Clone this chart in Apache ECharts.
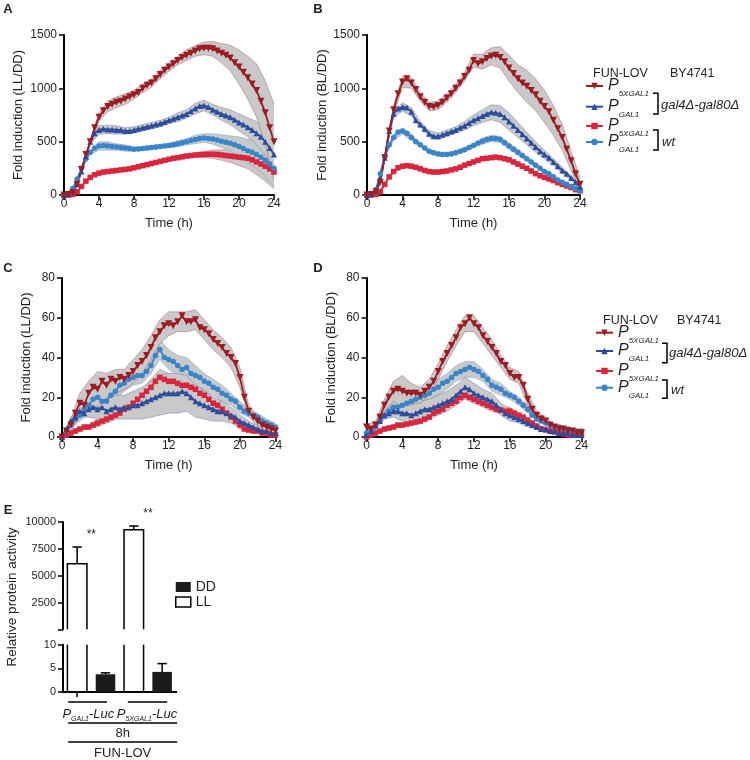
<!DOCTYPE html>
<html><head><meta charset="utf-8">
<script src="https://cdn.jsdelivr.net/npm/echarts@6/dist/echarts.min.js"></script>
<style>html,body{margin:0;padding:0;background:#fff}#c{width:750px;height:760px}</style>
</head><body><div id="c"></div>
<script>
// ---------- DATA ----------
const hours = [0,0.5,1,1.5,2,2.5,3,3.5,4,4.5,5,5.5,6,6.5,7,7.5,8,8.5,9,9.5,10,10.5,11,11.5,12,12.5,13,13.5,14,14.5,15,15.5,16,16.5,17,17.5,18,18.5,19,19.5,20,20.5,21,21.5,22,22.5,23,23.5,24];
const semHours = [0,1,2,3,4,5,6,7,8,9,10,11,12,13,14,15,16,17,18,19,20,21,22,23,24];

// Panel A (LL/DD)
const A_dred = [0,5,20,100,240,380,500,630,730,790,830,850,870,880,900,920,940,960,1000,1030,1050,1090,1130,1170,1200,1230,1260,1290,1310,1330,1350,1370,1375,1375,1370,1350,1330,1310,1285,1240,1200,1150,1100,1040,980,880,770,630,500];
const A_blue = [0,10,40,100,220,360,500,580,610,620,615,615,610,610,600,600,610,620,630,640,650,660,670,685,700,715,730,745,760,785,810,835,840,825,800,780,760,745,730,705,680,660,635,610,580,545,500,440,380];
const A_red = [0,0,5,30,80,130,165,190,205,215,220,225,230,235,240,245,255,265,275,285,295,305,315,325,335,345,350,358,365,370,375,378,380,382,382,380,375,370,365,360,355,350,345,330,310,290,270,245,215];
const A_lblue = [0,15,60,150,250,340,400,440,460,465,460,455,450,445,440,435,430,432,435,440,445,450,455,460,465,470,480,490,500,510,520,530,535,530,525,515,505,495,485,470,455,435,415,400,380,355,325,290,250];
const A_dred_sem = [0,5,10,20,40,50,50,50,40,40,40,40,40,40,50,50,60,70,90,120,160,200,250,300,350];
const A_blue_sem = [0,5,10,20,40,40,40,30,30,30,30,30,30,40,40,50,50,50,60,70,80,90,110,130,150];
const A_red_sem = [0,2,5,10,15,15,15,15,15,15,15,15,15,20,20,20,30,40,50,60,80,100,120,140,160];
const A_lblue_sem = [0,5,10,20,40,40,30,30,20,20,20,20,20,30,30,40,40,50,60,70,90,110,130,150,170];

// Panel B (BL/DD)
const B_dred = [0,5,30,120,350,600,800,950,1060,1090,1050,990,920,870,830,825,840,870,910,950,1000,1050,1110,1170,1260,1230,1250,1280,1300,1310,1290,1250,1190,1140,1090,1050,1020,980,940,880,830,780,700,620,540,430,320,200,100];
const B_blue = [0,10,40,150,350,600,760,810,825,820,780,700,660,620,575,550,550,565,580,595,610,630,650,675,700,720,740,760,775,770,760,730,690,650,610,570,530,490,450,410,380,350,310,270,230,200,160,120,80];
const B_red = [0,0,5,30,100,170,220,255,270,275,270,260,245,230,220,215,215,220,225,235,245,260,280,295,310,325,340,345,350,355,350,340,330,310,290,270,250,225,200,180,165,150,135,115,100,85,70,50,40];
const B_lblue = [0,10,50,200,360,470,540,590,600,580,540,500,470,440,410,395,385,380,380,385,395,410,425,445,465,485,505,520,530,530,520,490,460,430,400,370,340,310,280,250,220,200,170,140,120,100,80,60,40];
const B_dred_sem = [0,5,15,40,50,50,40,40,40,40,40,40,60,70,80,100,120,130,150,150,150,140,120,90,60];
const B_blue_sem = [0,5,10,30,40,40,30,30,30,30,30,40,50,60,70,80,80,70,60,50,40,30,30,20,20];
const B_red_sem = [0,2,5,10,15,15,10,10,10,10,10,10,15,15,15,20,20,20,15,15,10,10,10,10,10];
const B_lblue_sem = [0,5,10,30,30,30,20,20,20,20,20,20,20,30,30,30,30,30,20,20,20,20,15,10,10];

// Panel C (LL/DD)
const C_dred = [0,3,6,12,17,16,22,25,24,28,26,29,28,30,29,31,33,36,38,41,45,50,53,56,57,56,58,61,58,58,59,55,54,52,49,47,45,42,40,37,30,20,13,10,8,6,5,4,3];
const C_blue = [0,4,8,10,13,12,14,15,14,15,13,14,15,14,15,15,16,16,17,18,19,20,21,22,22,22,22,23,22,20,18,17,16,15,14,13,13,12,11,10,8,7,6,5,4,3,3,2,2];
const C_red = [0,1,2,3,4,5,5,6,7,8,9,10,11,12,14,15,17,19,21,23,25,28,30,29,28,28,27,26,26,25,24,22,21,19,17,16,14,12,10,8,6,4,3.5,3,3,2,2,1,1];
const C_lblue = [0,3,6,9,11,14,16,19,20,18,18,21,23,26,27,29,30,31,31,33,36,41,44,40,39,38,36,34,35,32,31,30,28,27,25,24,22,21,19,18,15,13,12,11,10,8,7,6,5];
const C_dred_sem = [0,3,5,6,9,6,6,5,6,6,6,6,6,5,5,5,5,5,5,5,5,3,2,2,2];
const C_blue_sem = [0,2,3,4,5,6,6,6,7,8,9,10,10,10,9,8,7,6,5,4,3,2,2,1,1];
const C_red_sem = [0,1,1,1,2,2,2,2,3,3,4,4,4,4,4,3,3,3,3,2,2,1,1,1,1];
const C_lblue_sem = [0,2,3,4,4,4,4,4,4,4,4,5,5,5,5,5,4,4,4,3,3,2,2,2,2];

// Panel D (BL/DD)
const D_dred = [5,4,6,10,16,20,23,24,23,22,22,22,21,23,25,28,33,38,42,46,50,55,57,60,57,55,51,48,45,42,38,36,32,30,30,26,19,14,11,9,8,6,5,4,4,3,3,2,2];
const D_blue = [1,3,6,8,11,12,13,13,12,12,11,12,13,14,14,15,16,17,18,19,21,23,25,24,22,21,20,19,18,16,14,12,11,10,9,8,7,6,5,4,4,3,3,2,2,2,1,1,1];
const D_red = [0,1,2,3,4,4.5,5,6,6,6.5,7,7.5,8,9,10,12,13,14,16,17,18,20,21,20,19,18,17,16,15,14,13.5,13,13,12,11,10,8.5,7,5.5,4,3.5,3,2.5,2,1.5,1,1,1,1];
const D_lblue = [2,3,5,8,11,13,15,15,16,17,18,19,20,21,22,24,25,27,28,30,32,33,34,35,34,33,31,29,26,25,24,22,21,20,18,16,14,11,9,8,7,6,5,5,4,4,3,3,3];
const D_dred_sem = [1,2,3,5,8,5,4,4,4,4,4,4,4,4,4,3,3,3,3,2,2,1,1,1,1];
const D_blue_sem = [1,1,2,3,4,5,5,5,5,5,5,5,5,4,4,3,3,2,2,1,1,1,1,1,1];
const D_red_sem = [0,1,1,1,1,1,1,1,1,1,2,2,2,2,2,2,2,1,1,1,1,1,1,0,0];
const D_lblue_sem = [1,1,2,3,4,4,4,4,4,4,4,4,4,3,3,3,2,2,2,1,1,1,1,1,1];

// Panel E
const E_cats = ['GAL1 LL','GAL1 DD','5XGAL1 LL','5XGAL1 DD'];
const E_LL = [6100, 9280];
const E_LL_err = [1570, 350];
const E_DD = [3.75, 4.25];
const E_DD_err = [0.3, 1.75];

// tick values
const foldTicksAB = [0, 500, 1000, 1500];
const foldTicksCD = [0, 20, 40, 60, 80];
const timeTicks = [0, 4, 8, 12, 16, 20, 24];

// ---------- STYLE ----------
const FONT = '"Liberation Sans", Arial, Helvetica, sans-serif';
const TXT = '#231f20';
const COL = {dred:'#9b1c24', blue:'#2c4c9c', red:'#d8263f', lblue:'#3a84c8'};
const NAME = {dred:'P5XGAL1 mut', blue:'PGAL1 mut', red:'P5XGAL1 wt', lblue:'PGAL1 wt'};
const SYM = {dred:{s:'triangle', r:180, z:7}, blue:{s:'triangle', r:0, z:6}, red:{s:'rect', r:0, z:5.5}, lblue:{s:'circle', r:0, z:5.5}};
const LEG = {'P5XGAL1 mut':'{p|P}{s|5XGAL1}', 'PGAL1 mut':'{p|P}{s|GAL1}', 'P5XGAL1 wt':'{p|P}{s|5XGAL1}', 'PGAL1 wt':'{p|P}{s|GAL1}'};

const panels = [
  {mean:{dred:A_dred, blue:A_blue, red:A_red, lblue:A_lblue}, sem:{dred:A_dred_sem, blue:A_blue_sem, red:A_red_sem, lblue:A_lblue_sem}, ticks:foldTicksAB},
  {mean:{dred:B_dred, blue:B_blue, red:B_red, lblue:B_lblue}, sem:{dred:B_dred_sem, blue:B_blue_sem, red:B_red_sem, lblue:B_lblue_sem}, ticks:foldTicksAB},
  {mean:{dred:C_dred, blue:C_blue, red:C_red, lblue:C_lblue}, sem:{dred:C_dred_sem, blue:C_blue_sem, red:C_red_sem, lblue:C_lblue_sem}, ticks:foldTicksCD},
  {mean:{dred:D_dred, blue:D_blue, red:D_red, lblue:D_lblue}, sem:{dred:D_dred_sem, blue:D_blue_sem, red:D_red_sem, lblue:D_lblue_sem}, ticks:foldTicksCD}
];
const gridDefs = [
  {left:64, top:35, width:210, height:160},
  {left:367, top:35, width:213, height:160},
  {left:62, top:278, width:213.5, height:159},
  {left:366.5, top:278, width:215, height:159},
  {left:63, top:522, width:113.3, height:107.3},
  {left:63, top:644.7, width:113.3, height:47.3}
];
const yNames = ['Fold induction (LL/DD)','Fold induction (BL/DD)','Fold induction (LL/DD)','Fold induction (BL/DD)'];
const yNameGaps = [39, 38, 29, 29];

const axisLineStyle = {color:'#000', width:2};
const lbl = (fs) => ({color:TXT, fontFamily:FONT, fontSize:fs});
const plain = v => String(v);

const grid = gridDefs.map(g => Object.assign({containLabel:false, outerBoundsMode:'none'}, g));
const xAxis = [], yAxis = [], series = [];

for (let i = 0; i < 4; i++) {
  const tk = panels[i].ticks;
  xAxis.push({type:'value', gridIndex:i, min:timeTicks[0], max:timeTicks[timeTicks.length-1], interval:timeTicks[1]-timeTicks[0],
    axisLine:{show:true, onZero:false, lineStyle:axisLineStyle},
    axisTick:{show:true, length:5, lineStyle:{color:'#000', width:1.5}},
    splitLine:{show:false},
    axisLabel:Object.assign({margin:3, formatter:plain}, lbl(12)),
    name:'Time (h)', nameLocation:'middle', nameGap:22, nameMoveOverlap:false,
    nameTextStyle:lbl(13)});
  yAxis.push({type:'value', gridIndex:i, min:tk[0], max:tk[tk.length-1], interval:tk[1]-tk[0],
    axisLine:{show:true, onZero:false, lineStyle:axisLineStyle},
    axisTick:{show:true, length:5, lineStyle:{color:'#000', width:1.5}},
    splitLine:{show:false},
    axisLabel:Object.assign({margin:7, formatter:plain}, lbl(12)),
    name:yNames[i], nameLocation:'middle', nameGap:yNameGaps[i], nameMoveOverlap:false,
    nameTextStyle:lbl(13)});
}
// Panel E axes
xAxis.push({type:'category', gridIndex:4, data:E_cats, show:false});
xAxis.push({type:'category', gridIndex:5, data:E_cats,
  axisLine:{show:true, onZero:false, lineStyle:axisLineStyle},
  axisTick:{show:true, alignWithLabel:true, length:5, lineStyle:{color:'#000', width:1.5}},
  axisLabel:{show:false}});
yAxis.push({type:'value', gridIndex:4, min:0, max:10000, interval:2500,
  axisLine:{show:true, onZero:false, lineStyle:axisLineStyle},
  axisTick:{show:true, length:5, lineStyle:{color:'#000', width:1.5}},
  splitLine:{show:false},
  axisLabel:Object.assign({margin:7, formatter:v => v === 0 ? '' : String(v)}, lbl(11))});
yAxis.push({type:'value', gridIndex:5, min:0, max:10, interval:5,
  axisLine:{show:true, onZero:false, lineStyle:axisLineStyle},
  axisTick:{show:true, length:5, lineStyle:{color:'#000', width:1.5}},
  splitLine:{show:false},
  axisLabel:Object.assign({margin:7, formatter:plain}, lbl(11))});

// bands
function bandSeries(gi, meanArr, semArr, color) {
  const data = semHours.map((h, i) => {
    const m = meanArr[hours.indexOf(h)];
    const s = semArr[i];
    return [h, Math.max(0, m - s), m + s];
  });
  return {type:'custom', xAxisIndex:gi, yAxisIndex:gi, z:1, silent:true, animation:false,
    data:data, encode:{x:0, y:[1,2]},
    renderItem:function(params, api){
      if (params.dataIndex !== 0) return null;
      const up = data.map(d => api.coord([d[0], d[2]]));
      const lo = data.map(d => api.coord([d[0], d[1]]));
      return {type:'group', children:[
        {type:'polygon', shape:{points:up.concat(lo.slice().reverse())}, style:{fill:'#c9c9c9', stroke:null}},
        {type:'polyline', shape:{points:up}, style:{fill:null, stroke:color, lineWidth:0.6, opacity:0.55}},
        {type:'polyline', shape:{points:lo}, style:{fill:null, stroke:color, lineWidth:0.6, opacity:0.55}}
      ]};
    }};
}
const order = ['red','lblue','blue','dred'];
for (let i = 0; i < 4; i++) {
  for (const k of order) series.push(bandSeries(i, panels[i].mean[k], panels[i].sem[k], COL[k]));
  for (const k of order) {
    series.push({type:'line', name:NAME[k], xAxisIndex:i, yAxisIndex:i, z:3, silent:true, animation:false,
      data:hours.map((h, j) => [h, panels[i].mean[k][j]]),
      symbol:SYM[k].s, symbolRotate:SYM[k].r, symbolSize:SYM[k].z, showSymbol:true,
      lineStyle:{color:COL[k], width:1.8}, itemStyle:{color:COL[k]}});
  }
}

// Panel E series
series.push({type:'bar', name:'DD', xAxisIndex:5, yAxisIndex:5, barWidth:'69%', animation:false, silent:true,
  data:[null, E_DD[0], null, E_DD[1]], itemStyle:{color:'#1c1a1a'}});
const llIdx = [0, 2], ddIdx = [1, 3];
series.push({type:'custom', name:'LL', xAxisIndex:4, yAxisIndex:4, animation:false, silent:true,
  itemStyle:{color:'#fff', borderColor:'#000', borderWidth:1.5},
  data:E_LL.map((v, i) => [llIdx[i], v]), encode:{x:0, y:1},
  renderItem:function(params, api){
    const c = api.value(0), v = api.value(1);
    const p0 = api.coord([c, 0]), p1 = api.coord([c, v]);
    const hw = api.size([1, 0])[0] * 0.345;
    const pts = [[p0[0]-hw, p0[1]], [p0[0]-hw, p1[1]], [p0[0]+hw, p1[1]], [p0[0]+hw, p0[1]]];
    return {type:'group', children:[
      {type:'polygon', shape:{points:pts}, style:{fill:'#fff', stroke:null}},
      {type:'polyline', shape:{points:pts}, style:{fill:null, stroke:'#000', lineWidth:1.5}}
    ]};
  }});
series.push({type:'custom', name:'LL', xAxisIndex:5, yAxisIndex:5, animation:false, silent:true,
  itemStyle:{color:'#fff', borderColor:'#000', borderWidth:1.5},
  data:E_LL.map((v, i) => [llIdx[i], v]), encode:{x:0, y:1},
  renderItem:function(params, api){
    const c = api.value(0), v = api.value(1);
    const p0 = api.coord([c, 0]);
    const top = Math.max(api.coord([c, v])[1], params.coordSys.y);
    const hw = api.size([1, 0])[0] * 0.345;
    return {type:'group', children:[
      {type:'line', shape:{x1:p0[0]-hw, y1:p0[1], x2:p0[0]-hw, y2:top}, style:{stroke:'#000', lineWidth:1.5}},
      {type:'line', shape:{x1:p0[0]+hw, y1:p0[1], x2:p0[0]+hw, y2:top}, style:{stroke:'#000', lineWidth:1.5}}
    ]};
  }});
function errRender(withStars) {
  return function(params, api){
    const c = api.value(0), v = api.value(1), e = api.value(2);
    const p1 = api.coord([c, v]), p2 = api.coord([c, v + e]);
    const bw = api.size([1, 0])[0];
    const cap = bw * 0.165;
    const ch = [
      {type:'line', shape:{x1:p1[0], y1:p1[1], x2:p2[0], y2:p2[1]}, style:{stroke:'#000', lineWidth:1.5}},
      {type:'line', shape:{x1:p2[0]-cap, y1:p2[1], x2:p2[0]+cap, y2:p2[1]}, style:{stroke:'#000', lineWidth:1.5}}
    ];
    if (withStars) ch.push({type:'text', x:p2[0] + bw/2, y:p2[1] - 12,
      style:{text:'**', fill:TXT, font:'12px ' + FONT, align:'center', verticalAlign:'middle'}});
    return {type:'group', children:ch};
  };
}
series.push({type:'custom', name:'errLL', xAxisIndex:4, yAxisIndex:4, animation:false, silent:true, z:4,
  data:E_LL.map((v, i) => [llIdx[i], v, E_LL_err[i]]), encode:{x:0, y:1}, renderItem:errRender(true)});
series.push({type:'custom', name:'errDD', xAxisIndex:5, yAxisIndex:5, animation:false, silent:true, z:4,
  data:E_DD.map((v, i) => [ddIdx[i], v, E_DD_err[i]]), encode:{x:0, y:1}, renderItem:errRender(false)});

// legends
const legRich = {
  p:{fontStyle:'italic', fontSize:16, lineHeight:24, verticalAlign:'middle', color:TXT, fontFamily:FONT},
  s:{fontStyle:'italic', fontSize:8, lineHeight:10, verticalAlign:'bottom', color:TXT, fontFamily:FONT}
};
function legRow(name, left, cy) {
  return {data:[name], left:left, top:cy - 12, padding:0, orient:'horizontal', itemWidth:17, itemHeight:8,
    selectedMode:false, formatter:n => LEG[n], textStyle:{color:TXT, fontFamily:FONT, rich:legRich}};
}
const legNames = ['P5XGAL1 mut','PGAL1 mut','P5XGAL1 wt','PGAL1 wt'];
const leg1Y = [90, 110.7, 130, 146];
const leg2Y = [336.7, 355, 375, 391.7];
const legend = [];
legNames.forEach((n, i) => legend.push(legRow(n, 585, leg1Y[i])));
legNames.forEach((n, i) => legend.push(legRow(n, 595, leg2Y[i])));
legend.push({data:[{name:'DD', icon:'rect'}, {name:'LL', icon:'rect', itemStyle:{color:'#fff', borderColor:'#000', borderWidth:1.5}}],
  left:175, top:579.5, padding:0, orient:'vertical', itemWidth:15, itemHeight:10, itemGap:0, selectedMode:false,
  textStyle:{color:TXT, fontFamily:FONT, fontSize:14, lineHeight:15}});

// graphics
function T(text, x, y, opt) {
  return {type:'text', x:x, y:y, silent:true, rotation:(opt && opt.rot) || 0,
    style:Object.assign({text:text, fill:TXT, font:((opt && opt.font) || '12px ' + FONT), align:(opt && opt.align) || 'left', verticalAlign:'middle'}, (opt && opt.style) || {})};
}
function bracket(x0, x1, y0, y1) {
  return {type:'polyline', silent:true, shape:{points:[[x0,y0],[x1,y0],[x1,y1],[x0,y1]]}, style:{stroke:'#000', lineWidth:1.5, fill:null}};
}
const baseGraphic = [
  T('A', 8, 9, {font:'bold 13px ' + FONT, align:'center'}),
  T('B', 318, 9, {font:'bold 13px ' + FONT, align:'center'}),
  T('C', 8, 268, {font:'bold 13px ' + FONT, align:'center'}),
  T('D', 318, 268, {font:'bold 13px ' + FONT, align:'center'}),
  T('E', 8, 510, {font:'bold 13px ' + FONT, align:'center'}),
  T('FUN-LOV', 593, 74, {font:'12.5px ' + FONT}),
  T('BY4741', 670, 74, {font:'12.5px ' + FONT}),
  bracket(653, 658, 93.3, 114),
  bracket(653, 658, 130, 150),
  T('gal4Δ-gal80Δ', 661, 105, {font:'italic 13px ' + FONT}),
  T('wt', 662, 142, {font:'italic 13px ' + FONT}),
  T('FUN-LOV', 603, 321, {font:'12.5px ' + FONT}),
  T('BY4741', 677, 321, {font:'12.5px ' + FONT}),
  bracket(662, 667, 343.3, 362.7),
  bracket(662, 667, 380, 398.3),
  T('gal4Δ-gal80Δ', 669, 353, {font:'italic 13px ' + FONT}),
  T('wt', 671, 390, {font:'italic 13px ' + FONT}),
  T('Relative protein activity', 12.5, 597, {font:'13.5px ' + FONT, align:'center', rot:Math.PI/2})
];

const chart = echarts.init(document.getElementById('c'), null, {renderer:'canvas'});
chart.setOption({backgroundColor:'#fff', animation:false, textStyle:{fontFamily:FONT},
  grid:grid, xAxis:xAxis, yAxis:yAxis, series:series, legend:legend, graphic:baseGraphic});

// Panel E category annotations positioned from the axis scale
const xs = E_cats.map(c => chart.convertToPixel({xAxisIndex:5}, c));
const yb = chart.convertToPixel({yAxisIndex:5}, 0);
const hl = (x1, x2, y) => ({type:'line', silent:true, shape:{x1:x1, y1:y, x2:x2, y2:y}, style:{stroke:'#000', lineWidth:1.5}});
const labRich = {
  i:{fontStyle:'italic', fontSize:13, lineHeight:18, verticalAlign:'middle', fill:TXT, fontFamily:FONT},
  s:{fontStyle:'italic', fontSize:7, lineHeight:8, verticalAlign:'bottom', fill:TXT, fontFamily:FONT}
};
const richT = (text, x, y) => ({type:'text', x:x, y:y, silent:true,
  style:{text:text, rich:labRich, align:'center', verticalAlign:'middle', fill:TXT, font:'italic 13px ' + FONT}});
const mid1 = (xs[0] + xs[1]) / 2, mid2 = (xs[2] + xs[3]) / 2, midAll = (xs[0] + xs[3]) / 2;
const extra = [
  hl(xs[0] - 9, xs[1] + 1.5, yb + 10),
  hl(xs[2] - 6, xs[3] + 5, yb + 10),
  richT('{i|P}{s|GAL1}{i|-Luc}', mid1 - 3, yb + 22),
  richT('{i|P}{s|5XGAL1}{i|-Luc}', mid2 - 1, yb + 22),
  hl(xs[0] - 9, xs[3] + 15, yb + 31),
  T('8h', midAll + 3, yb + 41, {font:'13px ' + FONT, align:'center'}),
  hl(xs[0] - 9, xs[3] + 15, yb + 50),
  T('FUN-LOV', midAll + 3, yb + 61, {font:'13px ' + FONT, align:'center'})
];
chart.setOption({graphic:baseGraphic.concat(extra)});
</script></body></html>
